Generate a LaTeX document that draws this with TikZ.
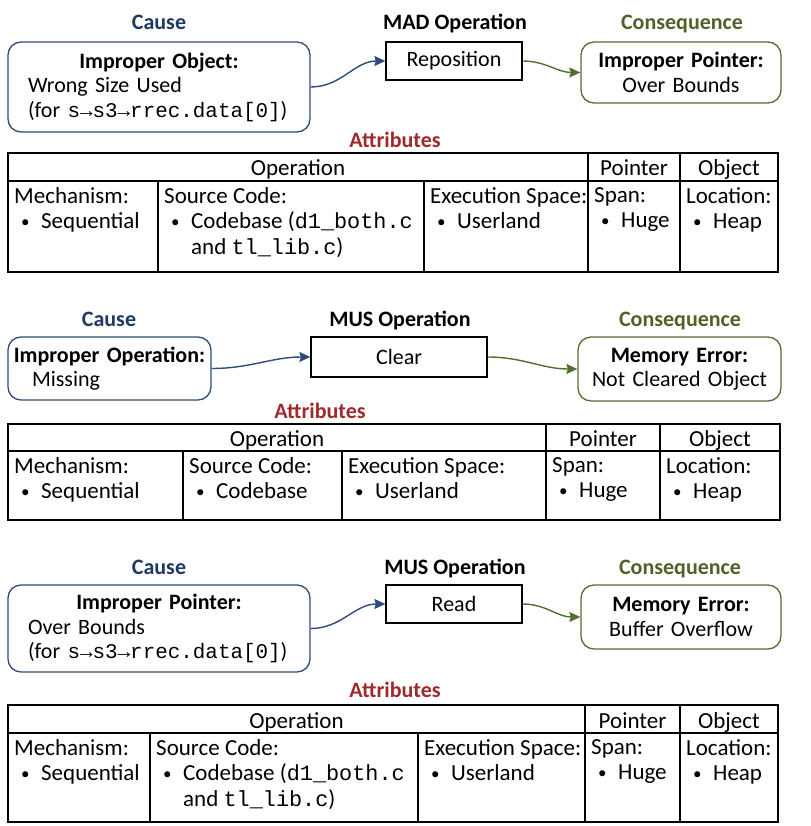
\documentclass[tikz,border=0pt]{standalone}
\usepackage{fontspec}
\setmainfont{Carlito}
\setmonofont[Scale=0.95]{Liberation Mono}
\usetikzlibrary{arrows.meta}
\definecolor{causeblue}{RGB}{32,56,100}
\definecolor{causeline}{RGB}{47,74,125}
\definecolor{conseqgreen}{RGB}{79,98,40}
\definecolor{conseqline}{RGB}{84,110,48}
\definecolor{attrred}{RGB}{158,42,43}
\newcommand{\bul}{\hspace*{7pt}\raisebox{1.5pt}{\fontsize{17}{17}\selectfont\textbullet}\hspace{11.5pt}}
\newcommand{\cont}{\hspace*{27pt}}
\begin{document}
\begin{tikzpicture}[x=1pt, y=-1pt,
  every node/.style={font=\fontsize{22}{24.5}\selectfont},
  head/.style={anchor=base, font=\fontsize{22}{25.5}\selectfont\bfseries},
  causebox/.style={draw=causeline, line width=1.3pt, rounded corners=13pt, align=left},
  conbox/.style={draw=conseqline, line width=1.3pt, rounded corners=13pt, align=center,
    text width=180pt, minimum width=200pt},
  opbox/.style={draw, line width=1.3pt},
  tbl/.style={line width=1.8pt, line cap=rect},
  cell/.style={anchor=north west, inner sep=0pt, align=left, font=\fontsize{23}{25.5}\selectfont,
    execute at begin node=\strut},
  hdr/.style={anchor=base, font=\fontsize{23}{25.5}\selectfont},
  causearr/.style={-{Stealth[length=11pt,width=10pt,inset=1.5pt]}, causeline, line width=1.4pt, out=0, in=180},
  conarr/.style={-{Stealth[length=11pt,width=10pt,inset=1.5pt]}, conseqline, line width=1.4pt, out=0, in=180}]
\useasboundingbox (0,0) rectangle (810,826);

% Panel 1: MAD operation
\node[head, causeblue] (cause1t) at (159,30) {Cause};
\node[head] (op1t) at (455,30) {MAD Operation};
\node[head, conseqgreen] (con1t) at (682,30) {Consequence};
\node[causebox, minimum width=302pt, minimum height=90pt, text width=262pt, inner xsep=20pt] (cause1) at (159,87)
  {\makebox[262pt]{\bfseries Improper Object:}\\Wrong Size Used\\(for \texttt{s→s3→rrec.data[0]})};
\node[opbox, minimum width=136pt, minimum height=38pt] (op1) at (454,61) {Reposition};
\node[conbox, minimum height=61pt] (con1) at (681,72.5) {\textbf{Improper Pointer:}\\Over Bounds};
\draw[causearr] (cause1.east) to (op1.west);
\draw[conarr] (op1.east) to (con1.west);
\node[head, attrred] (attr1) at (395,148) {Attributes};
\draw[tbl] (8,153) rectangle (778,272);
\draw[tbl] (8,181) -- (778,181);
\foreach \x in {158,424} \draw[tbl] (\x,181) -- (\x,272);
\foreach \x in {588,680} \draw[tbl] (\x,153) -- (\x,272);
\node[hdr] (t1op) at (298,176) {Operation};
\node[hdr] (t1ptr) at (634,176) {Pointer};
\node[hdr] (t1obj) at (729,176) {Object};
\node[cell] (t1mech) at (14,187) {Mechanism:\\\bul Sequential};
\node[cell] (t1src) at (164,187) {Source Code:\\\bul Codebase (\texttt{d1\_both.c}\\\cont and \texttt{tl\_lib.c})};
\node[cell] (t1exec) at (430,187) {Execution Space:\\\bul Userland};
\node[cell] (t1span) at (594,187) {Span:\\\bul Huge};
\node[cell] (t1loc) at (686,187) {Location:\\\bul Heap};

% Panel 2: MUS operation (clear)
\node[head, causeblue] (cause2t) at (109,326) {Cause};
\node[head] (op2t) at (400,326) {MUS Operation};
\node[head, conseqgreen] (con2t) at (680,326) {Consequence};
\node[causebox, minimum width=203pt, minimum height=63pt, text width=197pt, inner xsep=3pt] (cause2) at (109.5,368.5)
  {\makebox[197pt]{\bfseries Improper Operation:}\\\hspace*{21pt}Missing};
\node[opbox, minimum width=176pt, minimum height=40pt] (op2) at (399,357) {Clear};
\node[conbox, minimum width=203pt, minimum height=64pt] (con2) at (679.5,369) {\textbf{Memory Error:}\\Not Cleared Object};
\draw[causearr] (cause2.east) to (op2.west);
\draw[conarr] (op2.east) to (con2.west);
\node[head, attrred] (attr2) at (320,418) {Attributes};
\draw[tbl] (8,424) rectangle (780,520);
\draw[tbl] (8,451) -- (780,451);
\foreach \x in {183,342} \draw[tbl] (\x,451) -- (\x,520);
\foreach \x in {546,660} \draw[tbl] (\x,424) -- (\x,520);
\node[hdr] (t2op) at (277,446) {Operation};
\node[hdr] (t2ptr) at (603,446) {Pointer};
\node[hdr] (t2obj) at (720,446) {Object};
\node[cell] (t2mech) at (14,457) {Mechanism:\\\bul Sequential};
\node[cell] (t2src) at (189,457) {Source Code:\\\bul Codebase};
\node[cell] (t2exec) at (348,457) {Execution Space:\\\bul Userland};
\node[cell] (t2span) at (552,457) {Span:\\\bul Huge};
\node[cell] (t2loc) at (666,457) {Location:\\\bul Heap};

% Panel 3: MUS operation (read)
\node[head, causeblue] (cause3t) at (159,574) {Cause};
\node[head] (op3t) at (455,574) {MUS Operation};
\node[head, conseqgreen] (con3t) at (680,574) {Consequence};
\node[causebox, minimum width=302pt, minimum height=87pt, text width=262pt, inner xsep=20pt] (cause3) at (159,628.5)
  {\makebox[262pt]{\bfseries Improper Pointer:}\\Over Bounds\\(for \texttt{s→s3→rrec.data[0]})};
\node[opbox, minimum width=136pt, minimum height=38pt] (op3) at (454,604) {Read};
\node[conbox, minimum height=64pt] (con3) at (681,617) {\textbf{Memory Error:}\\Buffer Overflow};
\draw[causearr] (cause3.east) to (op3.west);
\draw[conarr] (op3.east) to (con3.west);
\node[head, attrred] (attr3) at (395,697) {Attributes};
\draw[tbl] (8,705) rectangle (778,822);
\draw[tbl] (8,733) -- (778,733);
\foreach \x in {150,418} \draw[tbl] (\x,733) -- (\x,822);
\foreach \x in {585,680} \draw[tbl] (\x,705) -- (\x,822);
\node[hdr] (t3op) at (296.5,728) {Operation};
\node[hdr] (t3ptr) at (632.5,728) {Pointer};
\node[hdr] (t3obj) at (729,728) {Object};
\node[cell] (t3mech) at (14,739) {Mechanism:\\\bul Sequential};
\node[cell] (t3src) at (156,739) {Source Code:\\\bul Codebase (\texttt{d1\_both.c}\\\cont and \texttt{tl\_lib.c})};
\node[cell] (t3exec) at (424,739) {Execution Space:\\\bul Userland};
\node[cell] (t3span) at (591,739) {Span:\\\bul Huge};
\node[cell] (t3loc) at (686,739) {Location:\\\bul Heap};
\end{tikzpicture}
\end{document}
